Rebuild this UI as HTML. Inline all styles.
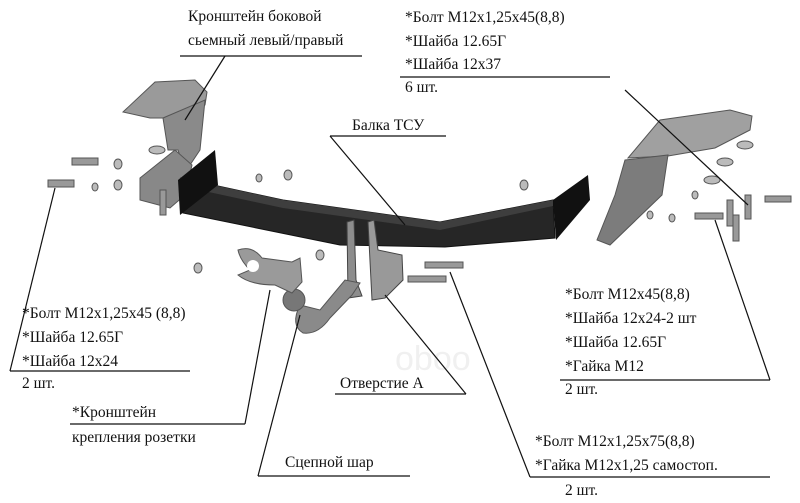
<!DOCTYPE html>
<html><head><meta charset="utf-8"><style>
html,body{margin:0;padding:0;background:#fff;}
svg{display:block;}
text{font-family:"Liberation Serif",serif;font-size:15.5px;fill:#111;}
</style></head><body>
<svg width="800" height="503" viewBox="0 0 800 503" xmlns="http://www.w3.org/2000/svg">
<!-- left bracket -->
<polygon points="123,112 155,82 195,80 207,92 205,105 185,118 163,118 150,118" fill="#9a9a9a" stroke="#555" stroke-width="1"/>
<polygon points="163,118 205,100 200,150 190,165 185,172 178,150 168,150" fill="#8a8a8a" stroke="#555"/>
<polygon points="140,178 175,150 192,165 185,195 170,208 140,200" fill="#888" stroke="#555"/>
<rect x="160" y="190" width="6" height="25" fill="#999" stroke="#555"/>
<!-- right bracket -->
<polygon points="628,158 660,120 730,110 752,116 750,130 715,148 668,156" fill="#a0a0a0" stroke="#555"/>
<polygon points="625,160 668,155 662,195 610,245 597,240 615,195" fill="#7c7c7c" stroke="#555"/>
<!-- beam -->
<polygon points="181,178 283,200 440,222 553,200 555,238 445,247 340,245 183,213" fill="#262626" stroke="#111"/>
<polygon points="181,178 283,200 440,222 553,200 553,206 440,230 283,208 181,186" fill="#3e3e3e"/>
<polygon points="178,180 215,150 218,185 180,215" fill="#111"/>
<polygon points="553,200 588,175 590,200 556,240" fill="#111"/>
<!-- hitch plates -->
<polygon points="347,222 354,220 356,280 362,296 348,298" fill="#8d8d8d" stroke="#444"/>
<polygon points="368,222 374,220 378,250 402,255 403,280 385,298 372,300" fill="#999" stroke="#444"/>
<!-- arm & ball -->
<path d="M300,305 Q290,325 303,333 Q318,335 330,318 L352,295 L360,283 L345,280 L320,310 Z" fill="#8a8a8a" stroke="#555"/>
<circle cx="294" cy="300" r="11" fill="#777" stroke="#555"/>
<!-- socket bracket -->
<path d="M238,250 Q252,245 262,258 L292,262 L300,258 L302,282 L292,293 L275,285 Q250,285 238,275 L250,270 Q240,260 238,250 Z" fill="#9a9a9a" stroke="#555"/>
<circle cx="253" cy="266" r="6" fill="#fff"/>
<!-- bolts -->
<g fill="#999" stroke="#555" stroke-width="1">
<rect x="48" y="180" width="26" height="7"/><rect x="72" y="158" width="26" height="7"/>
<rect x="425" y="262" width="38" height="6"/><rect x="408" y="276" width="38" height="6"/>
<rect x="695" y="213" width="28" height="6"/><rect x="765" y="196" width="26" height="6"/>
<rect x="727" y="200" width="6" height="26"/><rect x="745" y="195" width="6" height="24"/>
<rect x="733" y="215" width="6" height="26"/>
</g>
<g fill="#bbb" stroke="#555">
<ellipse cx="118" cy="164" rx="4" ry="5"/><ellipse cx="118" cy="185" rx="4" ry="5"/><ellipse cx="95" cy="187" rx="3" ry="4"/>
<ellipse cx="157" cy="150" rx="8" ry="4"/><ellipse cx="288" cy="175" rx="4" ry="5"/><ellipse cx="259" cy="178" rx="3" ry="4"/>
<ellipse cx="524" cy="185" rx="4" ry="5"/><ellipse cx="320" cy="255" rx="4" ry="5"/><ellipse cx="198" cy="268" rx="4" ry="5"/>
<ellipse cx="745" cy="145" rx="8" ry="4"/><ellipse cx="725" cy="162" rx="8" ry="4"/><ellipse cx="712" cy="180" rx="8" ry="4"/>
<ellipse cx="695" cy="195" rx="3" ry="4"/><ellipse cx="650" cy="215" rx="3" ry="4"/><ellipse cx="672" cy="218" rx="3" ry="4"/>
</g>
<text x="395" y="370" style="font-family:'Liberation Sans',sans-serif;font-size:34px;fill:#f0f0f0">oboo</text>
<!-- leader lines -->
<g stroke="#111" stroke-width="1.2" fill="none">
<line x1="180" y1="56" x2="362" y2="56"/><line x1="225" y1="56" x2="185" y2="120"/>
<line x1="400" y1="77" x2="610" y2="77"/><line x1="625" y1="90" x2="748" y2="205"/>
<line x1="330" y1="136" x2="446" y2="136"/><line x1="330" y1="136" x2="405" y2="225"/>
<line x1="10" y1="371" x2="190" y2="371"/><line x1="10" y1="371" x2="55" y2="188"/>
<line x1="70" y1="424" x2="245" y2="424"/><line x1="245" y1="424" x2="270" y2="290"/>
<line x1="258" y1="476" x2="410" y2="476"/><line x1="258" y1="476" x2="300" y2="315"/>
<line x1="335" y1="394" x2="466" y2="394"/><line x1="466" y1="394" x2="385" y2="295"/>
<line x1="560" y1="380" x2="770" y2="380"/><line x1="770" y1="380" x2="715" y2="220"/>
<line x1="530" y1="477" x2="770" y2="477"/><line x1="530" y1="477" x2="450" y2="272"/>
</g>
<text x="188" y="21">Кронштейн боковой</text>
<text x="188" y="45">сьемный левый/правый</text>
<text x="405" y="22">*Болт М12х1,25х45(8,8)</text>
<text x="405" y="46">*Шайба 12.65Г</text>
<text x="405" y="69">*Шайба 12х37</text>
<text x="405" y="92">6 шт.</text>
<text x="352" y="130">Балка ТСУ</text>
<text x="22" y="318">*Болт М12х1,25х45 (8,8)</text>
<text x="22" y="342">*Шайба 12.65Г</text>
<text x="22" y="366">*Шайба 12х24</text>
<text x="22" y="388">2 шт.</text>
<text x="72" y="417">*Кронштейн</text>
<text x="72" y="442">крепления розетки</text>
<text x="285" y="467">Сцепной шар</text>
<text x="340" y="388">Отверстие А</text>
<text x="565" y="299">*Болт М12х45(8,8)</text>
<text x="565" y="323">*Шайба 12х24-2 шт</text>
<text x="565" y="347">*Шайба 12.65Г</text>
<text x="565" y="371">*Гайка М12</text>
<text x="565" y="394">2 шт.</text>
<text x="535" y="446">*Болт М12х1,25х75(8,8)</text>
<text x="535" y="470">*Гайка М12х1,25  самостоп.</text>
<text x="565" y="495">2 шт.</text>
</svg>
</body></html>
